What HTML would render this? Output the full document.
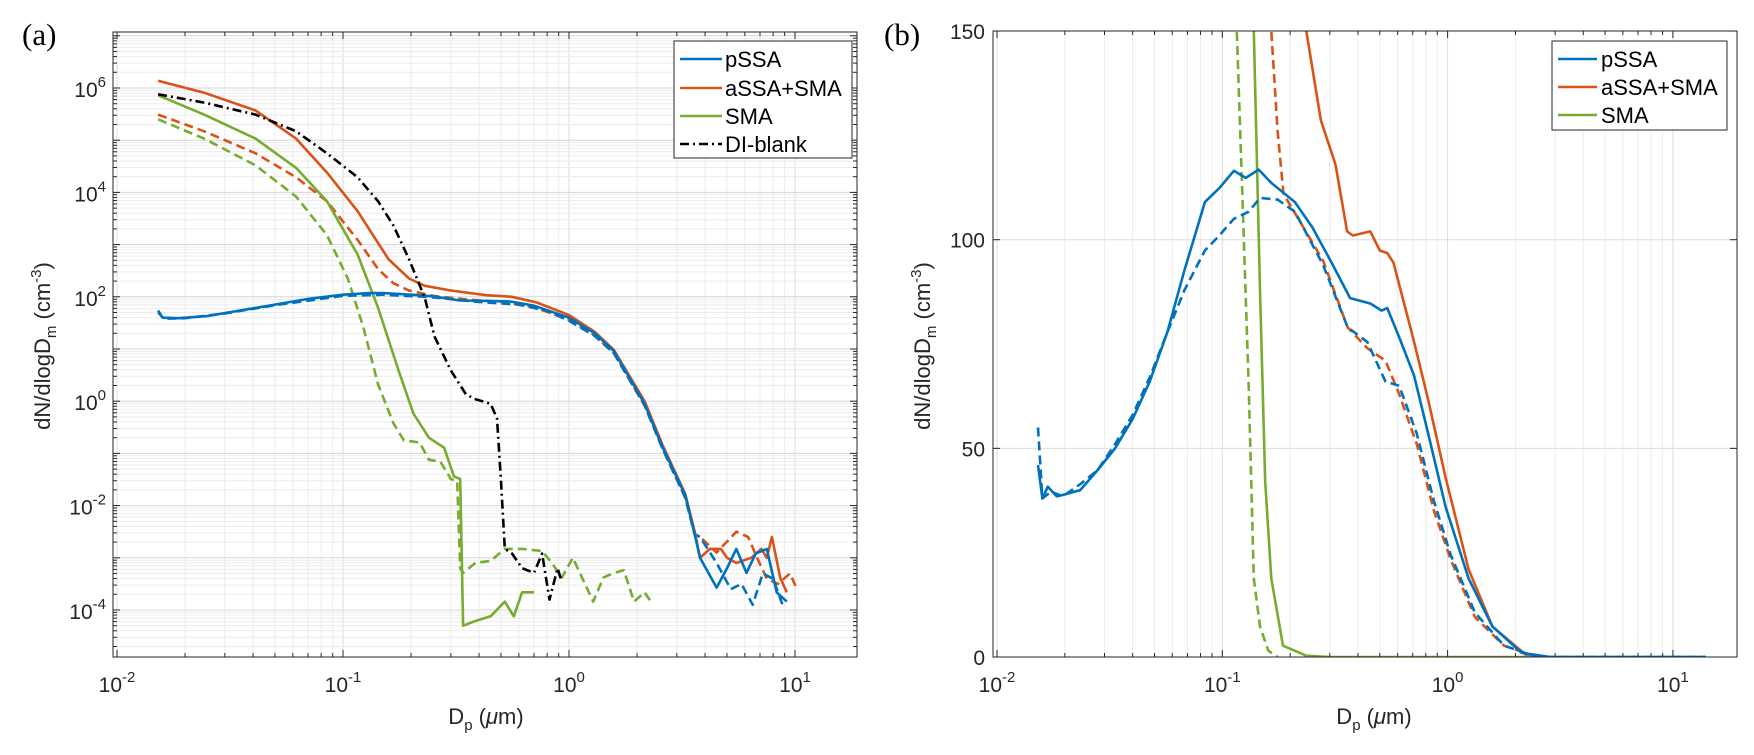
<!DOCTYPE html>
<html><head><meta charset="utf-8">
<style>
html,body{margin:0;padding:0;background:#fff;}
svg{display:block;font-family:"Liberation Sans",sans-serif;}
</style></head>
<body>
<svg id="fig" width="1754" height="755" viewBox="0 0 1754 755" xmlns="http://www.w3.org/2000/svg">
<defs>
<clipPath id="clipA"><rect x="113" y="32" width="744" height="625"/></clipPath>
<clipPath id="clipB"><rect x="993" y="31" width="744" height="626"/></clipPath>
</defs>
<g id="gridA"></g>
<g id="gridB"></g>
<g id="linesA" clip-path="url(#clipA)"></g>
<g id="linesB" clip-path="url(#clipB)"></g>
<g id="axesA"></g>
<g id="axesB"></g>

<text x="22" y="45" font-family="Liberation Serif, serif" font-size="31">(a)</text>
<text x="884" y="45" font-family="Liberation Serif, serif" font-size="31">(b)</text>

<text transform="translate(50,346) rotate(-90)" text-anchor="middle" font-size="22" fill="#262626">dN/dlogD<tspan font-size="15" dy="6">m</tspan><tspan dy="-6"> (cm</tspan><tspan font-size="15" dy="-9">-3</tspan><tspan dy="9">)</tspan></text>
<text transform="translate(930,346) rotate(-90)" text-anchor="middle" font-size="22" fill="#262626">dN/dlogD<tspan font-size="15" dy="6">m</tspan><tspan dy="-6"> (cm</tspan><tspan font-size="15" dy="-9">-3</tspan><tspan dy="9">)</tspan></text>
<text x="486" y="724" text-anchor="middle" font-size="22" fill="#262626">D<tspan font-size="15" dy="6">p</tspan><tspan dy="-6"> (</tspan><tspan font-style="italic">μ</tspan>m)</text>
<text x="1374" y="724" text-anchor="middle" font-size="22" fill="#262626">D<tspan font-size="15" dy="6">p</tspan><tspan dy="-6"> (</tspan><tspan font-style="italic">μ</tspan>m)</text>

<g>
<rect x="674" y="41" width="178" height="117" fill="#fff" stroke="#262626" stroke-width="1"/>
<line x1="680" y1="59" x2="722" y2="59" stroke="#0072BD" stroke-width="2.6"/>
<text x="725" y="67" font-size="22" fill="#000">pSSA</text>
<line x1="680" y1="88" x2="722" y2="88" stroke="#D95319" stroke-width="2.6"/>
<text x="725" y="96" font-size="22" fill="#000">aSSA+SMA</text>
<line x1="680" y1="116" x2="722" y2="116" stroke="#77AC30" stroke-width="2.6"/>
<text x="725" y="124" font-size="22" fill="#000">SMA</text>
<line x1="680" y1="144" x2="722" y2="144" stroke="#000" stroke-width="2.6" stroke-dasharray="9 4 2 4"/>
<text x="725" y="152" font-size="22" fill="#000">DI-blank</text>
</g>
<g>
<rect x="1552" y="41" width="175" height="89" fill="#fff" stroke="#262626" stroke-width="1"/>
<line x1="1558" y1="59" x2="1597" y2="59" stroke="#0072BD" stroke-width="2.6"/>
<text x="1601" y="67" font-size="22" fill="#000">pSSA</text>
<line x1="1558" y1="87" x2="1597" y2="87" stroke="#D95319" stroke-width="2.6"/>
<text x="1601" y="95" font-size="22" fill="#000">aSSA+SMA</text>
<line x1="1558" y1="115" x2="1597" y2="115" stroke="#77AC30" stroke-width="2.6"/>
<text x="1601" y="123" font-size="22" fill="#000">SMA</text>
</g>
</svg>
<script>
// ---------- Panel (a) data: diameter (um) and log10(dN/dlogDm) ----------
const aPssaD = [0.0152,0.016,0.0187,0.025,0.031,0.04,0.053,0.07,0.1,0.13,0.15,0.2,0.25,0.33,0.45,0.55,0.7,1.0,1.3,1.58,2.16,2.6,3.27,3.6,3.8,4.5,5.0,5.5,6.1,6.7,7.5,8.3,9.2];
const aPssaL = [1.70,1.60,1.59,1.63,1.70,1.78,1.87,1.96,2.04,2.07,2.07,2.04,2.01,1.93,1.92,1.91,1.83,1.60,1.30,0.96,-0.05,-0.89,-1.80,-2.55,-3.00,-3.57,-3.20,-2.83,-3.29,-2.92,-2.83,-3.66,-3.84];
const aPssaDashD = [0.0152,0.016,0.02,0.03,0.05,0.1,0.15,0.25,0.4,0.6,0.8,1.0,1.3,1.58,2.16,2.6,3.27,3.6,3.8,4.5,5.2,5.8,6.5,7.2,8.0,8.8];
const aPssaDashL = [1.74,1.58,1.59,1.68,1.84,2.02,2.04,1.99,1.90,1.85,1.73,1.54,1.25,0.92,-0.08,-0.92,-1.85,-2.55,-2.60,-3.10,-3.60,-3.50,-3.90,-3.30,-3.40,-3.90];
const aAssaD = [0.0152,0.0243,0.041,0.062,0.085,0.116,0.159,0.196,0.23,0.30,0.43,0.56,0.72,1.0,1.3,1.58,2.16,2.6,3.27,3.6,3.8,4.2,4.7,5.0,5.5,6.4,7.1,7.5,7.9,8.6,9.2];
const aAssaL = [6.14,5.91,5.57,5.03,4.38,3.64,2.72,2.35,2.21,2.12,2.03,2.00,1.89,1.65,1.33,0.98,0.0,-0.85,-1.78,-2.50,-3.00,-2.83,-2.83,-3.00,-3.10,-3.00,-2.83,-3.00,-2.60,-3.38,-3.66];
const aAssaDashD = [0.0152,0.0243,0.041,0.062,0.085,0.116,0.143,0.167,0.196,0.25,0.35,0.5,0.7,1.0,1.3,1.58,2.16,2.6,3.27,3.6,3.8,4.5,5.5,6.2,6.8,7.5,8.4,9.5,10.2];
const aAssaDashL = [5.49,5.17,4.75,4.29,3.83,3.09,2.53,2.26,2.12,2.02,1.95,1.90,1.80,1.56,1.26,0.92,-0.08,-0.92,-1.85,-2.55,-2.60,-2.90,-2.50,-2.60,-3.00,-3.40,-3.50,-3.30,-3.60];
const aSmaD = [0.0152,0.0243,0.041,0.062,0.085,0.116,0.143,0.176,0.205,0.24,0.28,0.31,0.33,0.34,0.385,0.45,0.52,0.57,0.62,0.70];
const aSmaL = [5.86,5.49,5.03,4.47,3.83,2.81,1.79,0.59,-0.24,-0.70,-0.89,-1.44,-1.49,-4.30,-4.21,-4.12,-3.84,-4.12,-3.66,-3.66];
const aSmaDashD = [0.0152,0.0243,0.041,0.062,0.085,0.105,0.123,0.143,0.167,0.186,0.218,0.24,0.27,0.30,0.32,0.33,0.34,0.385,0.45,0.52,0.62,0.76,0.84,0.93,1.04,1.28,1.42,1.58,1.75,1.94,2.16,2.3];
const aSmaDashL = [5.40,5.03,4.52,3.92,3.18,2.35,1.42,0.32,-0.42,-0.75,-0.79,-1.12,-1.16,-1.49,-1.53,-3.20,-3.29,-3.10,-3.06,-2.83,-2.83,-2.87,-3.10,-3.38,-3.00,-3.84,-3.38,-3.29,-3.24,-3.84,-3.66,-3.84];
const aBlankD = [0.0152,0.0243,0.041,0.062,0.085,0.116,0.143,0.167,0.196,0.23,0.254,0.30,0.35,0.385,0.45,0.48,0.50,0.52,0.56,0.62,0.70,0.76,0.82,0.89,0.93];
const aBlankL = [5.88,5.72,5.49,5.17,4.75,4.29,3.83,3.37,2.72,1.98,1.24,0.59,0.13,0.04,-0.05,-0.33,-1.53,-2.83,-2.92,-3.20,-3.29,-2.92,-3.80,-3.20,-3.47];
const aYTicks = [6,4,2,0,-2,-4];
const aXTicks = [-2,-1,0,1];

// ---------- Panel (b) data: diameter (um) and dN/dlogDm ----------
const bPssaD = [0.0152,0.0159,0.0168,0.0184,0.0201,0.0234,0.028,0.0334,0.040,0.0476,0.057,0.068,0.0837,0.0971,0.1126,0.127,0.145,0.165,0.21,0.251,0.309,0.369,0.454,0.51,0.54,0.61,0.71,0.82,0.98,1.24,1.58,2.13,2.86,14];
const bPssaV = [46,38,40.8,38.5,39,40,44.8,50,57,66,77.8,92.8,109,112.4,116.5,114.8,116.8,113.6,109,103,94,86,84.7,83,83.6,76.6,67.4,53.5,36,18.8,7.3,1,0,0];
const bPssaDashD = [0.0152,0.0159,0.0174,0.0196,0.0234,0.028,0.0334,0.040,0.0476,0.057,0.068,0.0837,0.097,0.1126,0.131,0.147,0.176,0.21,0.28,0.36,0.44,0.53,0.61,0.73,0.87,1.03,1.32,1.78,2.5,14];
const bPssaDashV = [55,38,39.6,38.5,41.4,44.8,51,58,67,77.8,88,97.4,101,105,106.7,110,109.6,106.7,94,79,75.5,66,65,53.5,37.3,24.6,10.7,2.7,0,0];
const bAssaD = [0.196,0.236,0.274,0.318,0.358,0.38,0.454,0.50,0.54,0.575,0.71,0.82,0.98,1.24,1.58,2.25,2.86];
const bAssaV = [224,150,128.6,118,102,101,102,97.4,96.8,94.5,75.5,61.6,43,21,7.3,0.3,0];
const bAssaDashD = [0.16,0.165,0.176,0.187,0.223,0.28,0.36,0.44,0.53,0.61,0.73,0.87,1.03,1.32,1.78,2.5];
const bAssaDashV = [190,150,126,111,104,95,79,74,71,63,51,35,23.5,9.6,2.7,0];
const bSmaD = [0.135,0.138,0.147,0.155,0.165,0.186,0.236,0.3,14];
const bSmaV = [190,150,88,42,18.8,2.7,0.3,0,0];
const bSmaDashD = [0.113,0.116,0.123,0.131,0.138,0.147,0.16,0.176];
const bSmaDashV = [190,150,109,65,18.8,7.3,1.5,0];
const bYTicks = [0,50,100,150];
const bXTicks = [-2,-1,0,1];

const NS = 'http://www.w3.org/2000/svg';
const BLUE='#0072BD', RED='#D95319', GREEN='#77AC30';
function xA(d){return 117+226*(Math.log10(d)+2);}
function yA(l){return 88-52.2*(l-6);}
function xB(d){return 997+225.3*(Math.log10(d)+2);}
function yB(v){return 657-v*4.173;}
function mk(tag, parent){const e=document.createElementNS(NS,tag);parent.appendChild(e);return e;}

function drawLine(parent,ds,vs,fx,fy,color,dash,name){
  const p=mk('path',parent);
  let s='';
  for(let i=0;i<ds.length;i++){s+=(i?'L':'M')+fx(ds[i]).toFixed(1)+' '+fy(vs[i]).toFixed(1);}
  p.setAttribute('d',s);
  p.setAttribute('fill','none');
  p.setAttribute('stroke',color);
  p.setAttribute('stroke-width','2.6');
  p.setAttribute('stroke-linejoin','round');
  if(dash)p.setAttribute('stroke-dasharray',dash);
  
  
}
function gline(parent,x1,y1,x2,y2,col,w){
  const l=mk('line',parent);
  l.setAttribute('x1',x1);l.setAttribute('y1',y1);l.setAttribute('x2',x2);l.setAttribute('y2',y2);
  l.setAttribute('stroke',col);l.setAttribute('stroke-width',w);
  return l;
}
function powLabel(parent,x,y,exp,anchor){
  const t=mk('text',parent);
  t.setAttribute('x',x);t.setAttribute('y',y);t.setAttribute('font-size','21');t.setAttribute('fill','#262626');
  t.setAttribute('text-anchor',anchor);
  t.innerHTML='10<tspan font-size="15" dy="-10">'+exp+'</tspan>';
  return t;
}
const LA={x0:113,x1:857,y0:32,y1:657};
const LB={x0:993,x1:1737,y0:31,y1:657};
// ---- grids ----
const gA=document.getElementById('gridA'), gB=document.getElementById('gridB');
for(let e=-2;e<=1;e++){for(let m=1;m<=9;m++){const d=m*Math.pow(10,e);const x=xA(d);if(x<LA.x0||x>LA.x1)continue;
  gline(gA,x,LA.y0,x,LA.y1,m===1?'#dcdcdc':'#ececec',1);
  const xb=xB(d); if(xb>=LB.x0&&xb<=LB.x1) gline(gB,xb,LB.y0,xb,LB.y1,m===1?'#dcdcdc':'#ececec',1);}}
for(let e=-5;e<=7;e++){for(let m=1;m<=9;m++){const l=e+Math.log10(m);const y=yA(l);if(y<LA.y0||y>LA.y1)continue;
  gline(gA,LA.x0,y,LA.x1,y,m===1?'#d6d6d6':'#ececec',1);}}
bYTicks.forEach(v=>{gline(gB,LB.x0,yB(v),LB.x1,yB(v),'#dcdcdc',1);});

// ---- series ----
const lA=document.getElementById('linesA'), lB=document.getElementById('linesB');
drawLine(lA,aSmaDashD,aSmaDashL,xA,yA,GREEN,'9 5','sma-dashed-a');
drawLine(lA,aAssaDashD,aAssaDashL,xA,yA,RED,'9 5','assa-sma-dashed-a');
drawLine(lA,aPssaDashD,aPssaDashL,xA,yA,BLUE,'9 5','pssa-dashed-a');
drawLine(lA,aSmaD,aSmaL,xA,yA,GREEN,null,'sma-line-a');
drawLine(lA,aAssaD,aAssaL,xA,yA,RED,null,'assa-sma-line-a');
drawLine(lA,aPssaD,aPssaL,xA,yA,BLUE,null,'pssa-line-a');
drawLine(lA,aBlankD,aBlankL,xA,yA,'#000','9 4 2 4','di-blank-line-a');

drawLine(lB,bAssaDashD,bAssaDashV,xB,yB,RED,'9 5','assa-sma-dashed-b');
drawLine(lB,bAssaD,bAssaV,xB,yB,RED,null,'assa-sma-line-b');
drawLine(lB,bSmaDashD,bSmaDashV,xB,yB,GREEN,'9 5','sma-dashed-b');
drawLine(lB,bSmaD,bSmaV,xB,yB,GREEN,null,'sma-line-b');
drawLine(lB,bPssaD,bPssaV,xB,yB,BLUE,null,'pssa-line-b');
drawLine(lB,bPssaDashD,bPssaDashV,xB,yB,BLUE,'9 5','pssa-dashed-b');

// ---- axes ----
const axA=document.getElementById('axesA'), axB=document.getElementById('axesB');
[[axA,LA],[axB,LB]].forEach(([g,L])=>{
  const r=mk('rect',g);r.setAttribute('x',L.x0);r.setAttribute('y',L.y0);r.setAttribute('width',L.x1-L.x0);r.setAttribute('height',L.y1-L.y0);
  r.setAttribute('fill','none');r.setAttribute('stroke','#262626');r.setAttribute('stroke-width','1');
});
for(let e=-2;e<=1;e++){for(let m=1;m<=9;m++){const d=m*Math.pow(10,e);const len=m===1?7:4;
  const x=xA(d); if(x>=LA.x0&&x<=LA.x1){gline(axA,x,LA.y1,x,LA.y1-len,'#262626',1);gline(axA,x,LA.y0,x,LA.y0+len,'#262626',1);}
  const xb=xB(d); if(xb>=LB.x0&&xb<=LB.x1){gline(axB,xb,LB.y1,xb,LB.y1-len,'#262626',1);gline(axB,xb,LB.y0,xb,LB.y0+len,'#262626',1);}}}
for(let e=-5;e<=7;e++){for(let m=1;m<=9;m++){const y=yA(e+Math.log10(m));if(y<LA.y0||y>LA.y1)continue;const len=m===1?7:4;
  gline(axA,LA.x0,y,LA.x0+len,y,'#262626',1);gline(axA,LA.x1,y,LA.x1-len,y,'#262626',1);}}
aYTicks.forEach(e=>{const t=powLabel(axA,106,yA(e)+9,String(e),'end');
  
  });
aXTicks.forEach(e=>{const t=powLabel(axA,xA(Math.pow(10,e)),692,String(e),'middle');
  
  });
bYTicks.forEach(v=>{const y=yB(v);gline(axB,LB.x0,y,LB.x0+7,y,'#262626',1);gline(axB,LB.x1,y,LB.x1-7,y,'#262626',1);
  const t=mk('text',axB);t.setAttribute('x',985);t.setAttribute('y',y+8);t.setAttribute('font-size','21');t.setAttribute('fill','#262626');t.setAttribute('text-anchor','end');t.textContent=String(v);
  
  });
bXTicks.forEach(e=>{const t=powLabel(axB,xB(Math.pow(10,e)),692,String(e),'middle');
  
  });
</script>
</body></html>
